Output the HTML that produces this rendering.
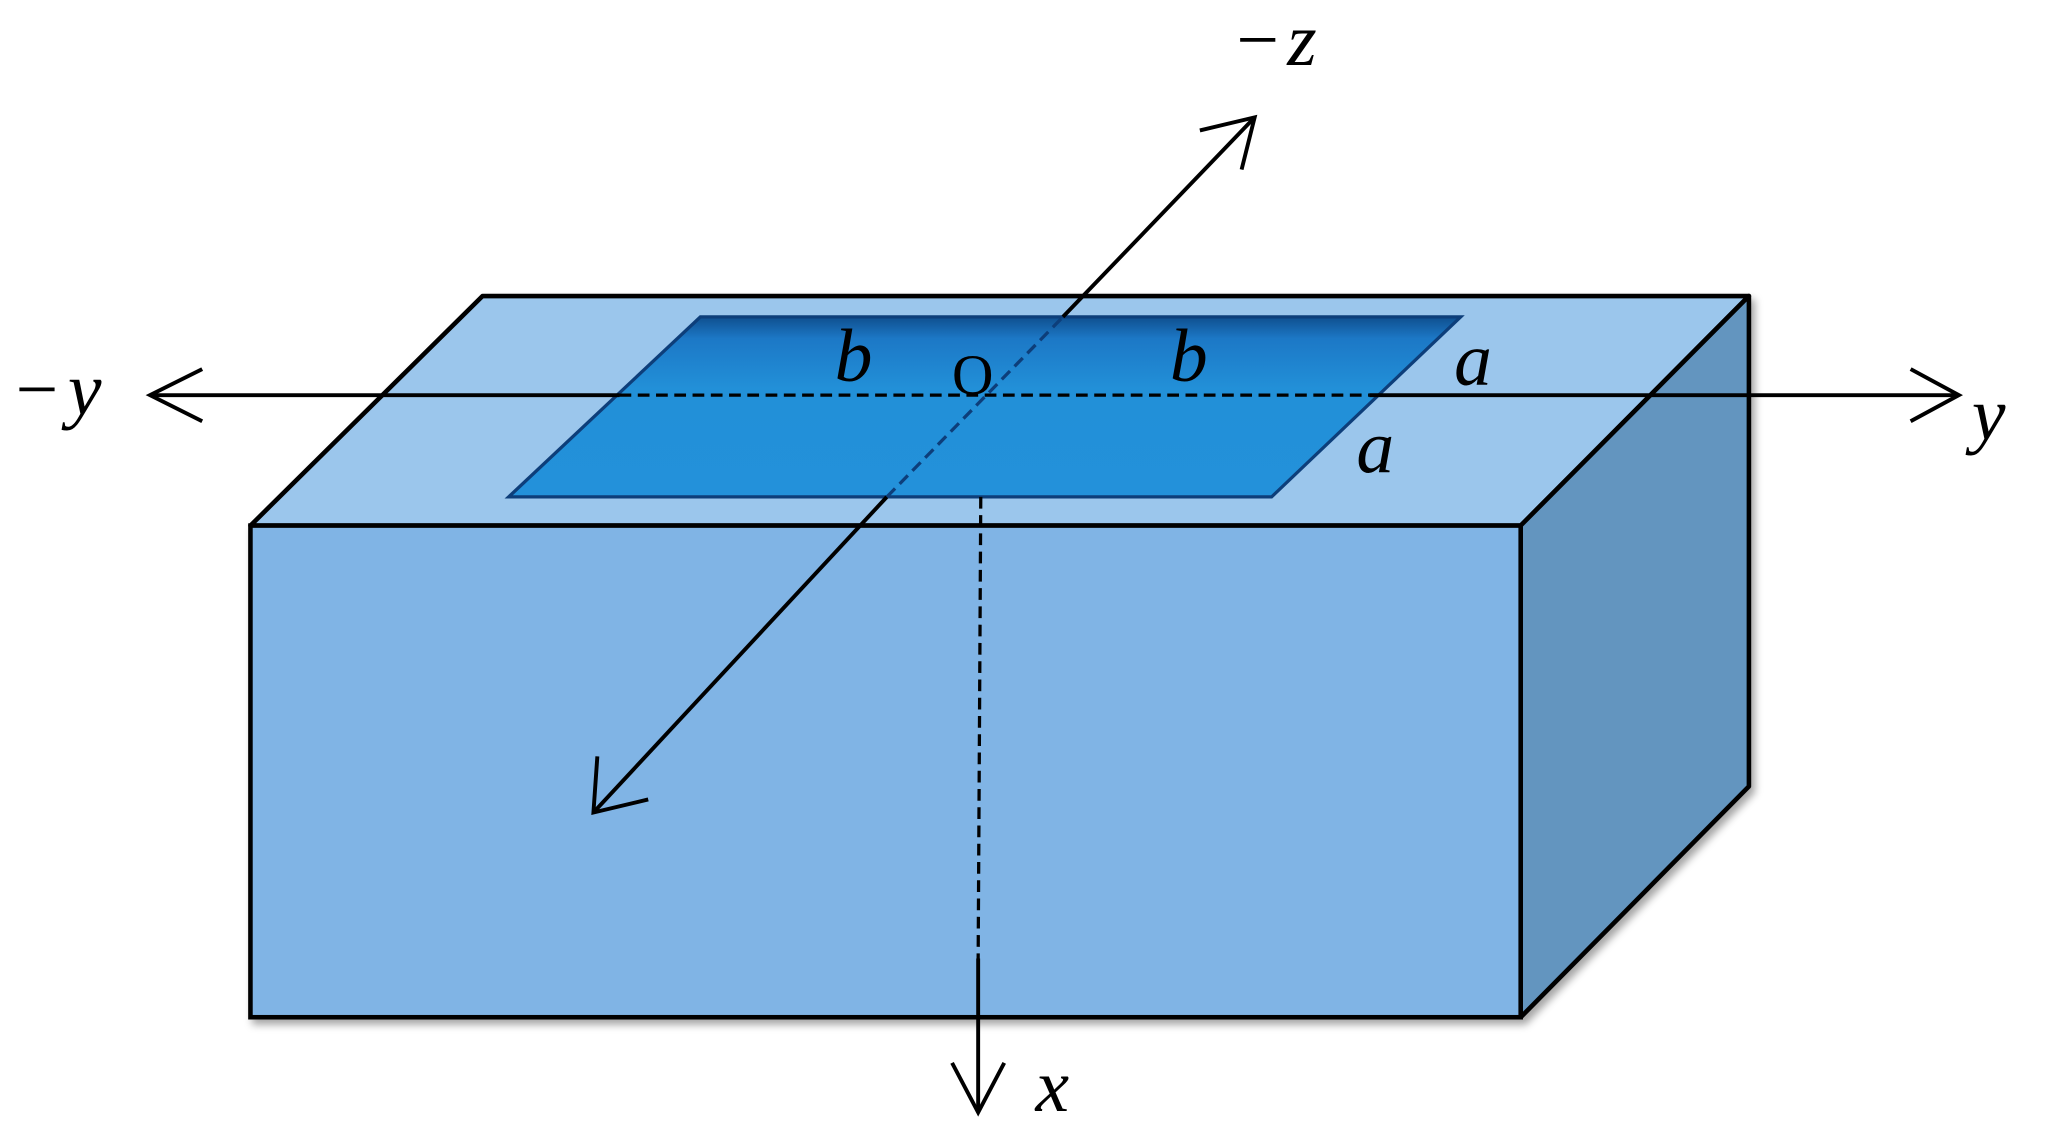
<!DOCTYPE html>
<html><head><meta charset="utf-8"><style>html,body{margin:0;padding:0;background:#fff;}svg{display:block}</style></head>
<body>
<svg width="2045" height="1144" viewBox="0 0 1568 877.2" xmlns="http://www.w3.org/2000/svg">
<defs>
<linearGradient id="g" x1="0" y1="0" x2="0" y2="1">
<stop offset="0" stop-color="#0f4f8f"/><stop offset="0.12" stop-color="#1c78c6"/><stop offset="0.4" stop-color="#2290d8"/><stop offset="1" stop-color="#2391da"/>
</linearGradient>
<filter id="sh" x="-5%" y="-5%" width="110%" height="115%"><feDropShadow dx="3" dy="4" stdDeviation="3" flood-color="#000" flood-opacity="0.35"/></filter>
</defs>
<g filter="url(#sh)">
<polygon points="370,227 1341,227 1166,403 192,403" fill="#9bc6ec" stroke="#000" stroke-width="3.5" stroke-linejoin="round"/>
<polygon points="1166,403 1341,227 1341,603 1166,780" fill="#6495bf" stroke="#000" stroke-width="3.5" stroke-linejoin="round"/>
<rect x="192" y="403" width="974" height="377" fill="#80b4e5" stroke="#000" stroke-width="3.5"/>
</g>
<polygon points="537,243 1120,243 975,381 390,381" fill="url(#g)" stroke="#0d3e7a" stroke-width="2.5"/>
<g stroke="#000" stroke-width="3" fill="none">
<line x1="115" y1="303" x2="475" y2="303"/>
<line x1="1050" y1="303" x2="1502" y2="303"/>
<line x1="475" y1="303" x2="1050" y2="303" stroke-dasharray="9,5" stroke-width="2.5"/>
<polyline points="155,283 115,303 155,323"/>
<polyline points="1465,283 1502,303 1465,323"/>
<line x1="455" y1="623" x2="680" y2="381"/>
<line x1="680" y1="381" x2="815" y2="243" stroke="#0d3e7a" stroke-dasharray="9,5" stroke-width="2.5"/>
<line x1="815" y1="243" x2="962" y2="90"/>
<polyline points="458,580 455,623 497,613"/>
<polyline points="920,100 962,90 952,130"/>
<line x1="752" y1="381" x2="750" y2="735" stroke-dasharray="9,5" stroke-width="2.5"/>
<line x1="750" y1="735" x2="750" y2="853"/>
<polyline points="730,815 750,853 770,815"/>
</g>
<g font-family="Liberation Serif, serif" font-style="italic" font-size="58" fill="#000">
<text x="948" y="50" font-style="normal">−</text><text x="987" y="50">z</text>
<text x="12" y="318" font-style="normal">−</text><text x="52" y="318">y</text>
<text x="1512" y="337">y</text>
<text x="794" y="852">x</text>
<text x="640" y="292">b</text>
<text x="897" y="292">b</text>
<text x="1115" y="295">a</text>
<text x="1040" y="362">a</text>
<text x="730" y="302" font-size="44" font-style="normal">O</text>
</g>
</svg>
</body></html>
